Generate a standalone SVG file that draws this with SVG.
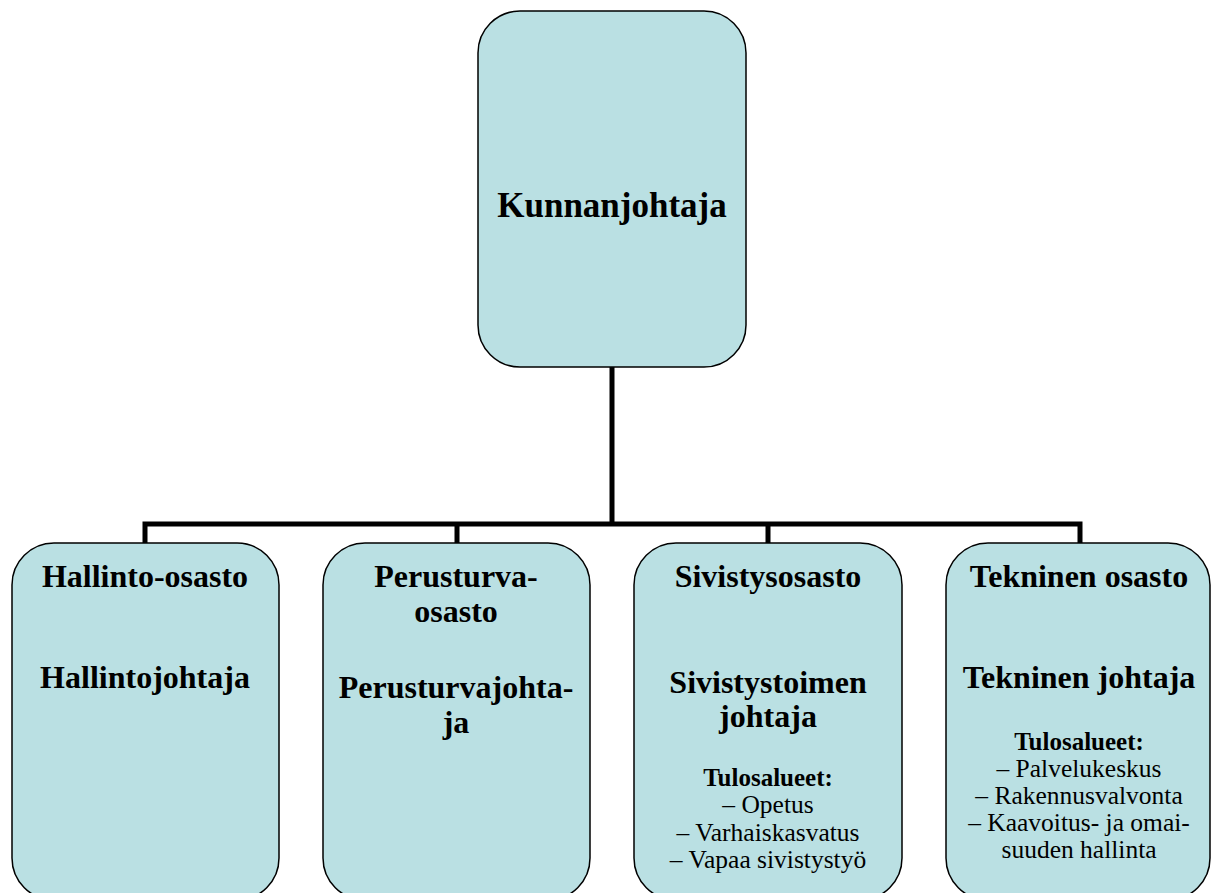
<svg xmlns="http://www.w3.org/2000/svg" width="1211" height="893" viewBox="0 0 1211 893">
<style>
.box{fill:#bae0e3;stroke:#000;stroke-width:1.5}
.t{font-family:"Liberation Serif","Times New Roman",serif;text-anchor:middle;fill:#000}
.k{font-weight:bold;font-size:35px}
.h{font-weight:bold;font-size:32px}
.s{font-weight:bold;font-size:25px}
.r{font-size:25.5px}
.c{fill:none;stroke:#000;stroke-width:5}
</style>
<rect width="1211" height="893" fill="#fff"/>
<g id="connectors">
<path class="c" d="M612 367V524M145 544V524H1080V544M457 524V544M768 524V544"/>
</g>
<g id="kunnanjohtaja">
<rect class="box" x="478" y="11" width="268" height="356" rx="42" ry="42"/>
<text class="t k" x="612" y="217">Kunnanjohtaja</text>
</g>
<g id="hallinto">
<rect class="box" x="12" y="543" width="267" height="357" rx="42" ry="42"/>
<text class="t h" x="145" y="587">Hallinto-osasto</text>
<text class="t h" x="145" y="688">Hallintojohtaja</text>
</g>
<g id="perusturva">
<rect class="box" x="323" y="543" width="267" height="357" rx="42" ry="42"/>
<text class="t h" x="456" y="587">Perusturva-</text>
<text class="t h" x="456" y="622">osasto</text>
<text class="t h" x="456" y="698">Perusturvajohta-</text>
<text class="t h" x="456" y="733">ja</text>
</g>
<g id="sivistys">
<rect class="box" x="634" y="543" width="268" height="357" rx="42" ry="42"/>
<text class="t h" x="768" y="587">Sivistysosasto</text>
<text class="t h" x="768" y="693">Sivistystoimen</text>
<text class="t h" x="768" y="727">johtaja</text>
<text class="t s" x="768" y="786">Tulosalueet:</text>
<text class="t r" x="768" y="813">– Opetus</text>
<text class="t r" x="768" y="841">– Varhaiskasvatus</text>
<text class="t r" x="768" y="868">– Vapaa sivistystyö</text>
</g>
<g id="tekninen">
<rect class="box" x="946" y="543" width="264" height="357" rx="42" ry="42"/>
<text class="t h" x="1079" y="587">Tekninen osasto</text>
<text class="t h" x="1079" y="688">Tekninen johtaja</text>
<text class="t s" x="1079" y="750">Tulosalueet:</text>
<text class="t r" x="1079" y="777">– Palvelukeskus</text>
<text class="t r" x="1079" y="804">– Rakennusvalvonta</text>
<text class="t r" x="1079" y="831">– Kaavoitus- ja omai-</text>
<text class="t r" x="1079" y="858">suuden hallinta</text>
</g>
</svg>
